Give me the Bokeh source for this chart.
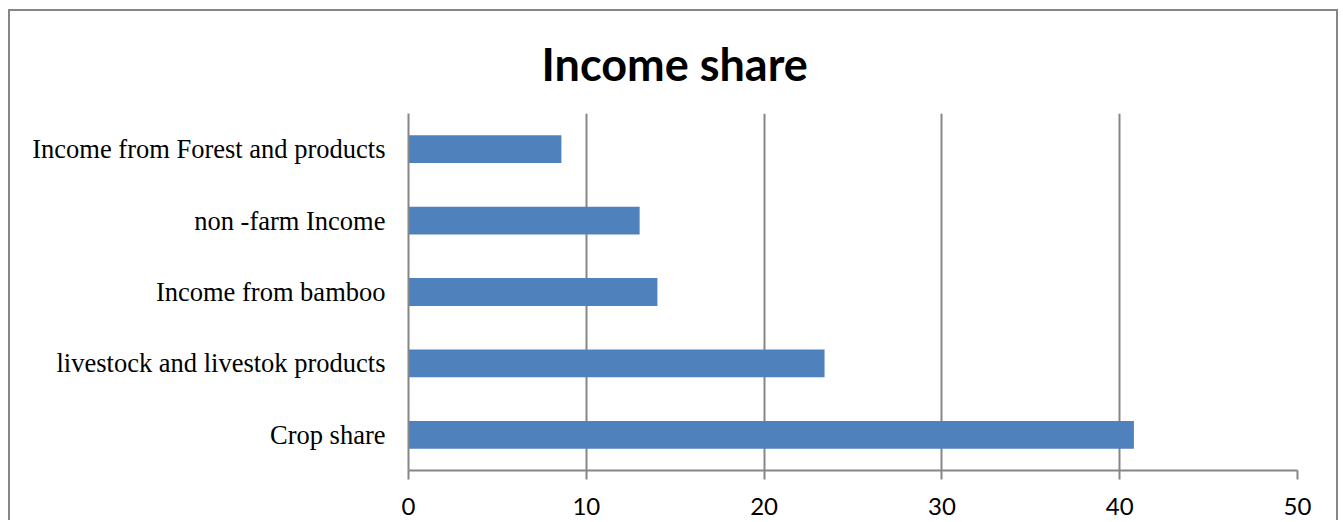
from bokeh.plotting import figure
from bokeh.models import FactorRange, Range1d, Title, FixedTicker
from bokeh.embed import file_html
from bokeh.resources import INLINE

categories = ["Crop share", "livestock and livestok products", "Income from bamboo",
              "non -farm Income", "Income from Forest and products"]
values = [40.8, 23.4, 14.0, 13.0, 8.6]
ticks = [0, 10, 20, 30, 40, 50]
title_text = "Income share"

GRID = "#868686"

p = figure(width=1330, height=511, output_backend="svg", toolbar_location=None,
           y_range=FactorRange(*categories, range_padding=0), x_range=Range1d(0, 50),
           min_border_left=398, min_border_right=43, min_border_top=102, min_border_bottom=52)
p.margin = (9, 0, 0, 8)
p.styles = {"border-top": "2px solid #868686", "border-left": "2px solid #868686",
            "border-right": "2px solid #868686"}
p.hbar(y=categories, right=values, left=0, height=0.39, fill_color="#4F81BD", line_color=None)

p.outline_line_color = None
p.ygrid.grid_line_color = None
p.xgrid.grid_line_color = GRID
p.xgrid.grid_line_width = 2
p.xaxis.ticker = FixedTicker(ticks=ticks)
p.xaxis.axis_line_color = GRID
p.xaxis.axis_line_width = 2
p.xaxis.major_tick_line_color = GRID
p.xaxis.major_tick_line_width = 2
p.xaxis.major_tick_in = 0
p.xaxis.major_tick_out = 9
p.xaxis.minor_tick_line_color = None
p.xaxis.major_label_text_font = "Lato"
p.xaxis.major_label_text_font_size = "24px"
p.xaxis.major_label_text_color = "#000000"
p.xaxis.major_label_standoff = 18

p.yaxis.axis_line_color = GRID
p.yaxis.axis_line_width = 2
p.yaxis.major_tick_line_color = None
p.yaxis.minor_tick_line_color = None
p.yaxis.major_label_text_font = "Liberation Serif"
p.yaxis.major_label_text_font_size = "26.5px"
p.yaxis.major_label_text_color = "#000000"
p.yaxis.major_label_standoff = 17

t = Title(text=title_text, align="left", offset=133, standoff=45,
          text_font="Lato", text_font_style="bold", text_font_size="45px",
          text_color="#000000")
p.add_layout(t, "above")

open("out.html", "w").write(file_html(p, INLINE))
